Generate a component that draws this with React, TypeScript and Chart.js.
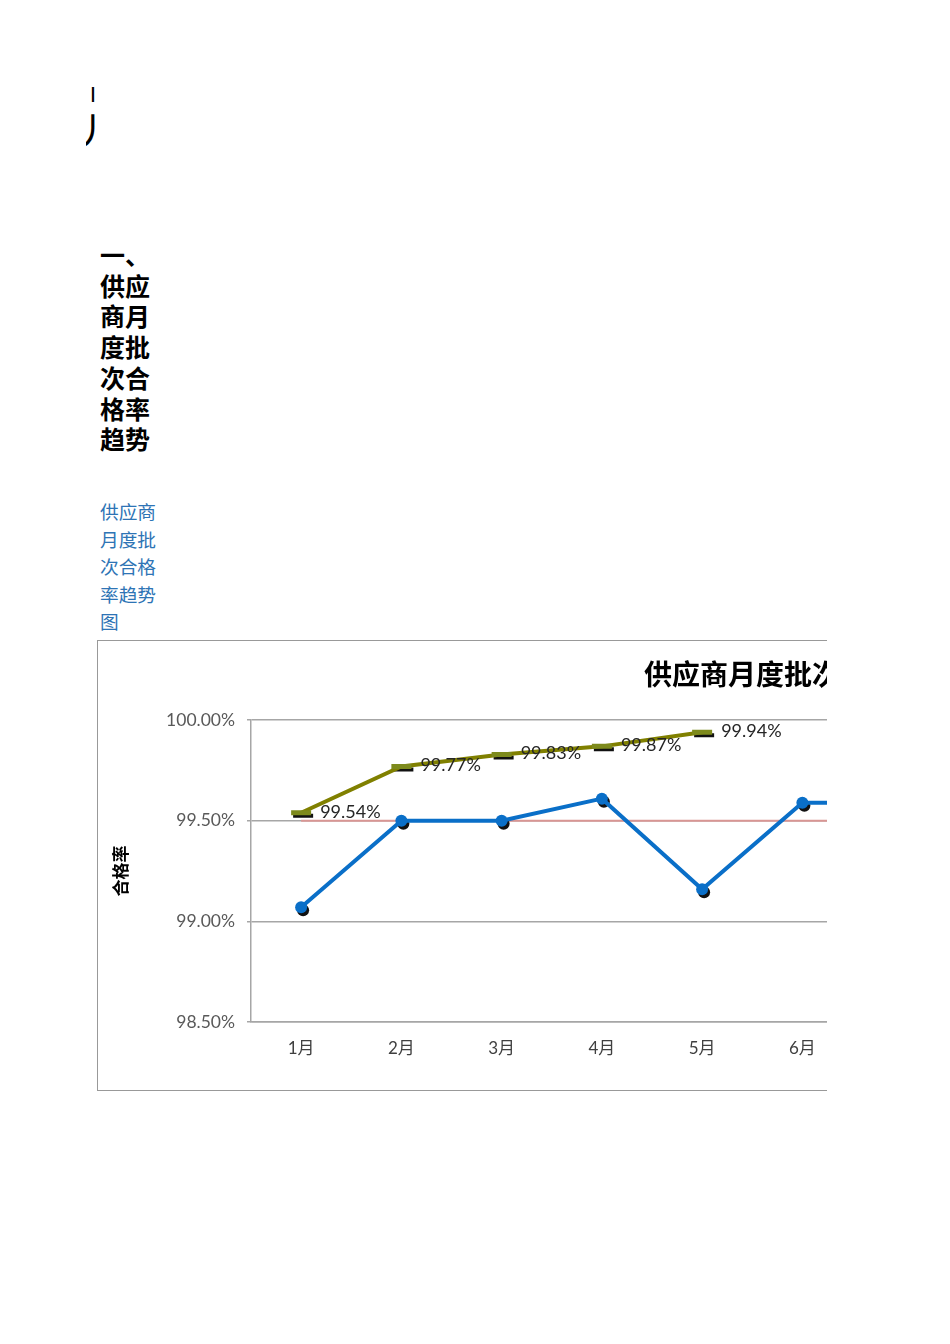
import { useEffect, useRef } from 'react';
import { Chart, registerables } from 'chart.js';
Chart.register(...registerables);

const months = ['1月', '2月', '3月', '4月', '5月', '6月', '7月', '8月', '9月', '10月', '11月', '12月'];
const batchRate = [99.07, 99.5, 99.5, 99.61, 99.16, 99.59, 99.59, null, null, null, null, null];
const cumulativeRate = [99.54, 99.77, 99.83, 99.87, 99.94, null, null, null, null, null, null, null];
const targetRate = [99.5, 99.5, 99.5, 99.5, 99.5, 99.5, 99.5, 99.5, 99.5, 99.5, 99.5, 99.5];
const yMin = 98.5;
const yMax = 100;
const yStep = 0.5;

const CJK = '"Noto Sans CJK SC", sans-serif';
const NUM = 'Lato, "Noto Sans CJK SC", sans-serif';

// shift the black "shadow" marker sets a few px down-right
const shadowShift = {
  id: 'shadowShift',
  beforeDatasetDraw(chart: any, args: any) {
    if (chart.data.datasets[args.index].shadow) {
      chart.ctx.save();
      chart.ctx.translate(2, 3);
    }
  },
  afterDatasetDraw(chart: any, args: any) {
    if (chart.data.datasets[args.index].shadow) chart.ctx.restore();
  },
};

const valueLabels = {
  id: 'valueLabels',
  afterDatasetsDraw(chart: any) {
    const ctx = chart.ctx;
    chart.data.datasets.forEach((ds: any, i: number) => {
      if (!ds.showValues) return;
      chart.getDatasetMeta(i).data.forEach((pt: any, j: number) => {
        const v = ds.data[j];
        if (v == null) return;
        ctx.save();
        ctx.font = '18px ' + NUM;
        ctx.fillStyle = '#262626';
        ctx.textAlign = 'left';
        ctx.textBaseline = 'middle';
        ctx.fillText(v.toFixed(2) + '%', pt.x + 19, pt.y - 1);
        ctx.restore();
      });
    });
  },
};

function RateChart() {
  const ref = useRef<HTMLCanvasElement>(null);

  useEffect(() => {
    const chart = new Chart(ref.current!, {
      type: 'line',
      data: {
        labels: months,
        datasets: [
          {
            label: '批次合格率', data: batchRate,
            borderColor: '#0a6fc8', backgroundColor: '#0a6fc8', borderWidth: 4,
            pointRadius: 6, pointBackgroundColor: '#0a6fc8', pointBorderWidth: 0,
          },
          {
            label: '累计合格率', data: cumulativeRate, showValues: true,
            borderColor: '#808000', backgroundColor: '#808000', borderWidth: 4,
            pointStyle: 'line', pointRadius: 10, pointBorderWidth: 5, pointBorderColor: '#7d8a1c',
          },
          {
            label: 'shadow1', data: batchRate, shadow: true, showLine: false,
            pointRadius: 6, pointBackgroundColor: '#111', pointBorderWidth: 0,
          },
          {
            label: 'shadow2', data: cumulativeRate, shadow: true, showLine: false,
            pointStyle: 'line', pointRadius: 10, pointBorderWidth: 4, pointBorderColor: '#111',
          },
          {
            label: '目标', data: targetRate,
            borderColor: '#d99694', borderWidth: 2, pointRadius: 0,
          },
        ] as any,
      },
      options: {
        animation: false,
        responsive: true, maintainAspectRatio: false,
        plugins: {
          legend: { display: false },
          tooltip: { enabled: false },
          title: {
            display: true, text: '供应商月度批次合格率趋势图', color: '#000',
            font: { family: CJK, size: 28, weight: 'bold', lineHeight: 1.2 },
            padding: { top: 17, bottom: 28.6 },
          },
        },
        scales: {
          x: {
            offset: true,
            grid: { display: false },
            border: { display: true, color: '#a6a6a6', width: 1.5 },
            ticks: { color: '#404040', font: { family: NUM, size: 17 }, padding: 8 },
            afterFit: (s: any) => { s.height = 68; },
          },
          y: {
            min: yMin, max: yMax,
            ticks: {
              stepSize: yStep, color: '#595959', font: { family: NUM, size: 17.5 }, padding: 12,
              callback: (v: any) => Number(v).toFixed(2) + '%',
            },
            grid: { color: '#a6a6a6', lineWidth: 1.5, tickLength: 4, tickColor: '#a6a6a6' },
            border: { display: true, color: '#a6a6a6', width: 1.5 },
            title: {
              display: true, text: '合格率', color: '#000',
              font: { family: CJK, size: 17, weight: 'bold', lineHeight: 1.2 },
              padding: { top: 12, bottom: 0 },
            },
            afterFit: (s: any) => { s.width = 153; },
          },
          // empty right-hand strip so the title stays centred on the whole chart
          yRight: {
            position: 'right',
            min: yMin, max: yMax,
            ticks: { display: false },
            grid: { display: false, drawTicks: false },
            border: { display: false },
            afterFit: (s: any) => { s.width = 100; },
          },
        },
      },
      plugins: [shadowShift, valueLabels],
    });
    return () => chart.destroy();
  }, []);

  return (
    <div style={{ position: 'relative', width: 1456, height: 449 }}>
      <canvas ref={ref} />
    </div>
  );
}

export default function App() {
  return (
    <div style={{ position: 'absolute', left: 0, top: 0, width: 950, height: 1340, overflow: 'hidden', background: '#fff' }}>
      {/* clipped page heading, only its left edge shows */}
      <div style={{ position: 'absolute', left: 86, top: 84, width: 11, height: 62, overflow: 'hidden', fontFamily: CJK, color: '#000' }}>
        <div style={{ fontSize: 16, lineHeight: '18px', marginLeft: -1, fontWeight: 'bold' }}>丨</div>
        <div style={{ fontSize: 38, lineHeight: '38px', marginLeft: -14, marginTop: 8 }}>丿</div>
      </div>

      <div style={{ position: 'absolute', left: 100, top: 239, width: 52, fontFamily: CJK, fontWeight: 'bold', fontSize: 25, lineHeight: '30.7px', color: '#000' }}>
        一、供应商月度批次合格率趋势
      </div>

      <div style={{ position: 'absolute', left: 100, top: 497, width: 60, fontFamily: CJK, fontSize: 18.7, lineHeight: '27.5px', color: '#2e74b5' }}>
        供应商月度批次合格率趋势图
      </div>

      <div style={{ position: 'absolute', left: 97, top: 640, width: 730, height: 451, overflow: 'hidden' }}>
        <div style={{ width: 1456, height: 449, border: '1px solid #999' }}>
          <RateChart />
        </div>
      </div>
    </div>
  );
}
